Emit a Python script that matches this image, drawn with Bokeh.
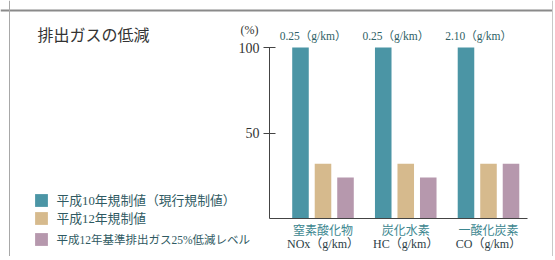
from bokeh.plotting import figure
from bokeh.models import (ColumnDataSource, Range1d, LinearAxis, FixedTicker, Label,
                          Legend, LegendItem, Span)
from bokeh.transform import dodge
from bokeh.embed import file_html
from bokeh.resources import INLINE
from bokeh.core.properties import value

# ---- data ----
categories = ["窒素酸化物", "炭化水素", "一酸化炭素"]
units = ["NOx（g/km）", "HC（g/km）", "CO（g/km）"]
limits = ["0.25（g/km）", "0.25（g/km）", "2.10（g/km）"]
h10 = [100, 100, 100]          # 平成10年規制値（現行規制値）
h12 = [32, 32, 32]             # 平成12年規制値
h12_25 = [24, 24, 32]          # 平成12年基準排出ガス25%低減レベル
series_names = ["平成10年規制値（現行規制値）", "平成12年規制値", "平成12年基準排出ガス25%低減レベル"]
y_ticks = [50, 100]

idx = list(range(len(categories)))
src = ColumnDataSource(dict(i=idx, cat=categories, unit=units, lim=limits,
                            h10=h10, h12=h12, h12_25=h12_25))

FONT = "Liberation Serif, Noto Sans CJK JP"
C_TEAL = "#4b95a5"
C_TAN = "#d6ba8d"
C_PINK = "#b698ad"

W, H = 553, 256
U = 82.75          # px per category step
PY = 1.71          # px per percent
X0 = -322.5 / U
Y0 = -(H - 218) / PY
AX_X = X0 + 269 / U        # y-axis position
AX_XR = X0 + 527 / U       # right end of x-axis

p = figure(width=W, height=H, output_backend="svg", toolbar_location=None,
           x_range=Range1d(X0, X0 + W / U), y_range=Range1d(Y0, Y0 + H / PY),
           min_border=0, x_axis_location=None, y_axis_location=None)
p.outline_line_color = None
p.xgrid.visible = False
p.ygrid.visible = False
p.background_fill_color = "white"
p.border_fill_color = "white"

# frame box lines
p.add_layout(Span(location=H - 10, location_units="screen", dimension="width",
                  line_color="#8a8a8a", line_width=2))
p.add_layout(Span(location=9, location_units="screen", dimension="height",
                  line_color="#a8a8a8", line_width=1))
p.add_layout(Span(location=W - 1, location_units="screen", dimension="height",
                  line_color="#c8c8c8", line_width=1))

BW = 0.2
OFF = 0.272
r1 = p.vbar(x=dodge("i", -OFF, range=p.x_range), top="h10", width=BW, source=src,
            fill_color=C_TEAL, line_color=None)
r2 = p.vbar(x=dodge("i", 0, range=p.x_range), top="h12", width=BW, source=src,
            fill_color=C_TAN, line_color=None)
r3 = p.vbar(x=dodge("i", OFF, range=p.x_range), top="h12_25", width=BW, source=src,
            fill_color=C_PINK, line_color=None)

# limit values above the teal bars
p.text(x=dodge("i", -0.12, range=p.x_range), y="h10", text="lim", source=src,
       text_font=value(FONT), text_font_size="11.5px", text_color="#2f5f66",
       text_align="center", text_baseline="bottom", y_offset=-6)

# y axis
yax = LinearAxis(ticker=FixedTicker(ticks=y_ticks), bounds=(0, 100), fixed_location=AX_X)
yax.axis_line_color = "#444"
yax.major_tick_line_color = "#444"
yax.major_tick_out = 6
yax.major_tick_in = 6
yax.minor_tick_line_color = None
yax.major_label_standoff = 4
yax.major_label_text_font = FONT
yax.major_label_text_font_size = "14px"
yax.major_label_text_color = "#333"
p.add_layout(yax, "left")

# x axes (two rows of category labels)
xax = LinearAxis(ticker=FixedTicker(ticks=idx), fixed_location=0, bounds=(AX_X, AX_XR),
                 major_label_overrides={i: c for i, c in zip(idx, categories)})
xax.axis_line_color = "#444"
xax.major_tick_line_color = None
xax.minor_tick_line_color = None
xax.major_tick_out = 0
xax.major_tick_in = 0
xax.major_label_standoff = 5
xax.major_label_text_font = FONT
xax.major_label_text_font_size = "12px"
xax.major_label_text_color = "#3d8790"
p.add_layout(xax, "below")

xax2 = LinearAxis(ticker=FixedTicker(ticks=idx), fixed_location=-18 / PY,
                  major_label_overrides={i: u for i, u in zip(idx, units)})
xax2.axis_line_color = None
xax2.major_tick_line_color = None
xax2.minor_tick_line_color = None
xax2.major_tick_out = 0
xax2.major_tick_in = 0
xax2.major_label_standoff = 0
xax2.major_label_text_font = FONT
xax2.major_label_text_font_size = "12px"
xax2.major_label_text_color = "#2c4046"
p.add_layout(xax2, "below")

# title and unit
p.add_layout(Label(x=37, y=H - 35, x_units="screen", y_units="screen", text="排出ガスの低減",
                   text_font=FONT, text_font_size="16px", text_color="#333",
                   text_baseline="middle", text_align="left"))
p.add_layout(Label(x=258, y=H - 29, x_units="screen", y_units="screen", text="(%)",
                   text_font=FONT, text_font_size="12px", text_color="#333",
                   text_baseline="middle", text_align="right"))

# legends, one per row
for r, name, vy, fs in [(r1, series_names[0], H - 209, "12.8px"),
                        (r2, series_names[1], H - 227, "12.8px"),
                        (r3, series_names[2], H - 247, "11.5px")]:
    lg = Legend(items=[LegendItem(label=name, renderers=[r])], location=(33.4, vy),
                glyph_width=16, glyph_height=16, label_height=16, label_standoff=7,
                padding=0, margin=0, spacing=0, border_line_color=None,
                background_fill_alpha=0, label_text_font=FONT, label_text_font_size=fs,
                label_text_color="#2f5a62")
    p.add_layout(lg, "center")

open("out.html", "w").write(file_html(p, INLINE))
